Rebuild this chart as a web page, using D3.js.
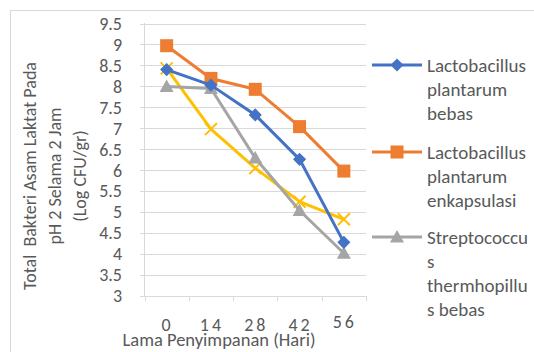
<!DOCTYPE html>
<html lang="id">
<head>
<meta charset="UTF-8">
<title>Total Bakteri Asam Laktat</title>
<script src="https://d3js.org/d3.v7.min.js"></script>
<style>
  body { margin: 0; background: #fff; }
  svg { font-family: Carlito, Lato, "Open Sans", sans-serif; }
</style>
</head>
<body>
<div id="chart"></div>
<script>
const days = ["0", "14", "28", "42", "56"];
const lpBebas = [8.40, 8.03, 7.32, 6.26, 4.28];
const lpEnkapsulasi = [8.97, 8.19, 7.93, 7.04, 5.98];
const stBebas = [8.00, 7.95, 6.29, 5.04, 4.02];
const seriesKeempat = [8.43, 6.98, 6.05, 5.25, 4.83];
const yTicks = [3, 3.5, 4, 4.5, 5, 5.5, 6, 6.5, 7, 7.5, 8, 8.5, 9, 9.5];

const width = 534, height = 352;
const svg = d3.select("#chart").append("svg")
  .attr("width", width).attr("height", height);

// chart frame
svg.append("rect")
  .attr("x", 10.5).attr("y", 10.5)
  .attr("width", 600).attr("height", 400)
  .attr("fill", "none").attr("stroke", "#d9d9d9");

const x = d3.scaleBand().domain(days).range([144.5, 366]);
const y = d3.scaleLinear().domain([3, 9.5]).range([296, 23.5]);

// gridlines
svg.selectAll(".grid").data(yTicks).join("line")
  .attr("x1", 140).attr("x2", 366)
  .attr("y1", d => Math.round(y(d)) + 0.5).attr("y2", d => Math.round(y(d)) + 0.5)
  .attr("stroke", "#d9d9d9").attr("stroke-width", 1);

// y axis line
svg.append("line")
  .attr("x1", 144.5).attr("x2", 144.5).attr("y1", 23).attr("y2", 296)
  .attr("stroke", "#d9d9d9");

// x axis ticks
const xEdges = days.map(d => x(d)).concat([x.range()[1]]);
svg.selectAll(".xtick").data(xEdges).join("line")
  .attr("x1", d => Math.round(d) + 0.5).attr("x2", d => Math.round(d) + 0.5)
  .attr("y1", 296).attr("y2", 301)
  .attr("stroke", "#d9d9d9");

// y tick labels
svg.selectAll(".ylab").data(yTicks).join("text")
  .attr("x", 122).attr("y", d => y(d))
  .attr("dy", "0.35em")
  .attr("text-anchor", "end")
  .attr("font-size", 18).attr("fill", "#595959")
  .text(d => d);

// x tick labels
svg.selectAll(".xlab").data(days).join("text")
  .attr("x", d => x(d) + x.bandwidth() / 2 + 1)
  .attr("y", (d, i) => i === days.length - 1 ? 328 : 331)
  .attr("text-anchor", "middle")
  .attr("font-size", 18).attr("fill", "#595959")
  .attr("letter-spacing", "3px")
  .text(d => d);

// x axis title
svg.append("text")
  .attr("x", 219).attr("y", 346)
  .attr("text-anchor", "middle")
  .attr("font-size", 18.5).attr("fill", "#595959")
  .text("Lama Penyimpanan (Hari)");

// y axis title
const yTitle = ["Total  Bakteri Asam Laktat Pada", "pH 2 Selama 2 Jam", "(Log CFU/gr)"];
svg.append("g").attr("transform", "translate(30,176) rotate(-90)")
  .selectAll("text").data(yTitle).join("text")
  .attr("x", 0).attr("y", (d, i) => i * 25)
  .attr("dy", "0.35em")
  .attr("text-anchor", "middle")
  .attr("font-size", 18).attr("fill", "#595959")
  .attr("xml:space", "preserve")
  .style("white-space", "pre")
  .text(d => d);

const series = [
  { name: ["Lactobacillus", "plantarum", "bebas"], values: lpBebas, color: "#4472C4", marker: "diamond" },
  { name: ["Lactobacillus", "plantarum", "enkapsulasi"], values: lpEnkapsulasi, color: "#ED7D31", marker: "square" },
  { name: ["Streptococcu", "s", "thermhopillu", "s bebas"], values: stBebas, color: "#A5A5A5", marker: "triangle" },
  { name: [], values: seriesKeempat, color: "#FFC000", marker: "x" }
];

const line = d3.line()
  .x((d, i) => x(days[i]) + x.bandwidth() / 2)
  .y(d => y(d));

function drawMarker(g, type, color) {
  if (type === "diamond") {
    g.append("path").attr("d", d3.symbol(d3.symbolDiamond2, 110)()).attr("fill", color);
  } else if (type === "square") {
    g.append("rect").attr("x", -6.5).attr("y", -6.5).attr("width", 13).attr("height", 13).attr("fill", color);
  } else if (type === "triangle") {
    g.append("path").attr("d", "M0,-7L7,5.5L-7,5.5Z").attr("fill", color);
  } else {
    g.append("path").attr("d", "M-6,-6L6,6M-6,6L6,-6").attr("stroke", color).attr("stroke-width", 2).attr("fill", "none");
  }
}

// draw back-to-front so blue sits on top like the reference
const order = [3, 2, 1, 0];
order.forEach(k => {
  const s = series[k];
  svg.append("path").datum(s.values)
    .attr("d", line)
    .attr("fill", "none").attr("stroke", s.color)
    .attr("stroke-width", 3).attr("stroke-linejoin", "round");
  s.values.forEach((v, i) => {
    const g = svg.append("g")
      .attr("transform", `translate(${x(days[i]) + x.bandwidth() / 2},${y(v)})`);
    drawMarker(g, s.marker, s.color);
  });
});

// legend
const legendStarts = [65, 152, 237];
series.slice(0, 3).forEach((s, k) => {
  const ly = legendStarts[k];
  svg.append("line")
    .attr("x1", 372).attr("x2", 422).attr("y1", ly).attr("y2", ly)
    .attr("stroke", s.color).attr("stroke-width", 3);
  const g = svg.append("g").attr("transform", `translate(397,${ly})`);
  drawMarker(g, s.marker, s.color);
  s.name.forEach((t, j) => {
    svg.append("text")
      .attr("x", 427).attr("y", ly + j * 24)
      .attr("dy", "0.35em")
      .attr("font-size", 19).attr("fill", "#595959")
      .text(t);
  });
});
</script>
</body>
</html>
